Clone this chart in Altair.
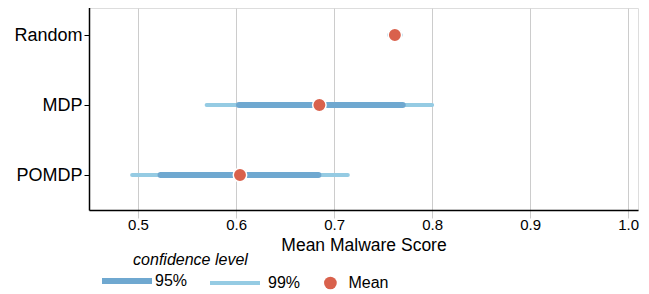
import altair as alt
import pandas as pd

categories = ["Random", "MDP", "POMDP"]
means = [0.762, 0.685, 0.604]
lo95 = [0.758, 0.603, 0.523]
hi95 = [0.766, 0.770, 0.684]
lo99 = [0.756, 0.570, 0.494]
hi99 = [0.768, 0.800, 0.714]
levels = ["95%", "99%", "Mean"]
x_ticks = [0.5, 0.6, 0.7, 0.8, 0.9, 1.0]

rows = []
for c, a, b in zip(categories, lo99, hi99):
    rows.append({"category": c, "series": "99%", "lo": a, "hi": b})
for c, a, b in zip(categories, lo95, hi95):
    rows.append({"category": c, "series": "95%", "lo": a, "hi": b})
ci = pd.DataFrame(rows)
mean_df = pd.DataFrame({"category": categories, "mean": means, "series": ["Mean"] * 3})

FONT = "Liberation Sans"
colors = ["#6fa8d0", "#95cbe3", "#d9614c"]
color_scale = alt.Scale(domain=levels, range=colors)

legend = alt.Legend(
    title="\u200b" + "\u00a0" * 7 + "confidence level",
    orient="none",
    legendX=13,
    legendY=244,
    direction="horizontal",
    titleFont=FONT,
    titleFontSize=16,
    titleFontStyle="italic",
    titleFontWeight="normal",
    titleColor="black",
    labelFont=FONT,
    labelFontSize=16,
    labelColor="black",
    columnPadding=14,
    titlePadding=5,
    symbolType=alt.ExprRef(expr="datum.value === 'Mean' ? 'circle' : 'stroke'"),
    symbolSize=alt.ExprRef(expr="datum.value === 'Mean' ? 161 : 2500"),
    symbolStrokeWidth=alt.ExprRef(expr="datum.value === '95%' ? 6 : (datum.value === '99%' ? 4 : 0)"),
    symbolFillColor=alt.ExprRef(expr="datum.value === 'Mean' ? '#d9614c' : 'transparent'"),
    symbolStrokeColor=alt.ExprRef(expr="datum.value === '95%' ? '#6fa8d0' : (datum.value === '99%' ? '#95cbe3' : 'transparent')"),
    symbolOffset=alt.ExprRef(expr="(datum.value === 'Mean' ? 15.4 : (datum.value === '99%' ? 29 : 25)) - datum.size * 0.5"),
    labelOffset=alt.ExprRef(expr="(datum.value === 'Mean' ? 26 : (datum.value === '99%' ? 41 : 36)) - datum.size"),
    symbolOpacity=1,
)

y_enc = alt.Y(
    "category:N",
    sort=categories,
    scale=alt.Scale(type="point", padding=0.5, range=[-8, 202]),
    axis=alt.Axis(
        title=None,
        labelFont=FONT,
        labelFontSize=18,
        labelColor="black",
        grid=False,
        tickColor="black",
        tickSize=5,
        domainColor="black",
        domainWidth=1.5,
        labelPadding=2,
    ),
)

x_scale = alt.Scale(domain=[0.45, 1.01], nice=False, zero=False)
x_axis = alt.Axis(
    title="Mean Malware Score",
    titleFont=FONT,
    titleFontSize=17.5,
    titleFontWeight="normal",
    titleColor="black",
    titlePadding=4,
    values=x_ticks,
    format=".1f",
    labelFont=FONT,
    labelFontSize=15,
    labelColor="black",
    grid=True,
    gridColor="#cccccc",
    gridWidth=1,
    tickColor="#cccccc",
    tickSize=4,
    domainColor="black",
    domainWidth=1.5,
    labelPadding=3,
)

rules = alt.Chart(ci).mark_rule(strokeCap="round").encode(
    x=alt.X("lo:Q", scale=x_scale, axis=x_axis),
    x2="hi:Q",
    y=y_enc,
    color=alt.Color("series:N", scale=color_scale, legend=legend),
    strokeWidth=alt.StrokeWidth("series:N", scale=alt.Scale(domain=["95%", "99%"], range=[6, 4]), legend=None),
    order=alt.Order("series:N", sort="descending"),
)

points = alt.Chart(mean_df).mark_circle(size=180, opacity=1, stroke="white", strokeWidth=1.5).encode(
    x=alt.X("mean:Q", scale=x_scale),
    y=alt.Y("category:N", sort=categories),
    color=alt.Color("series:N", scale=color_scale, legend=legend),
)

chart = alt.layer(rules, points).properties(
    width=549,
    height=202,
    autosize=alt.AutoSizeParams(type="none"),
    padding={"left": 81, "top": 0, "right": 3, "bottom": 84},
).configure_view(stroke=None).configure(background="white")

chart.save("out.html", embed_options={"renderer": "svg", "actions": False})
